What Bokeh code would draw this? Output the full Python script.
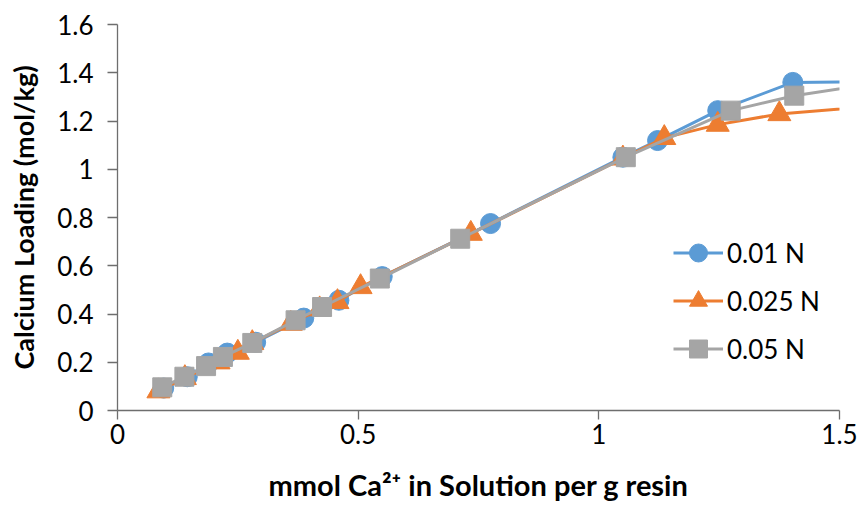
from bokeh.plotting import figure
from bokeh.models import Range1d, FixedTicker, Legend, LegendItem
from bokeh.embed import file_html
from bokeh.resources import INLINE

# Calcium loading isotherms at three solution normalities
x_001 = [0.096, 0.145, 0.189, 0.228, 0.287, 0.387, 0.46, 0.55, 0.775, 1.05, 1.122, 1.247, 1.403, 1.65]
y_001 = [0.093, 0.14, 0.197, 0.238, 0.283, 0.383, 0.457, 0.555, 0.775, 1.05, 1.119, 1.243, 1.36, 1.365]

x_0025 = [0.085, 0.14, 0.21, 0.25, 0.28, 0.36, 0.42, 0.457, 0.505, 0.734, 1.05, 1.136, 1.247, 1.375, 1.65]
y_0025 = [0.08, 0.135, 0.2, 0.24, 0.28, 0.36, 0.42, 0.45, 0.512, 0.733, 1.045, 1.13, 1.185, 1.229, 1.275]

x_005 = [0.093, 0.139, 0.184, 0.219, 0.28, 0.37, 0.425, 0.545, 0.712, 1.056, 1.274, 1.406, 1.65]
y_005 = [0.096, 0.14, 0.184, 0.222, 0.28, 0.374, 0.429, 0.547, 0.712, 1.05, 1.243, 1.305, 1.378]

series_names = ["0.01 N", "0.025 N", "0.05 N"]
series_colors = ["#5B9BD5", "#ED7D31", "#A5A5A5"]
series_markers = ["circle", "triangle", "square"]
series_sizes = [20, 23, 19]

x_ticks = [0, 0.5, 1, 1.5]
y_ticks = [0, 0.2, 0.4, 0.6, 0.8, 1, 1.2, 1.4, 1.6]

FONT = "Lato"

p = figure(width=861, height=511, output_backend="svg", toolbar_location=None,
           x_range=Range1d(0, 1.5), y_range=Range1d(0, 1.6),
           min_border_left=117, min_border_right=22, min_border_top=24, min_border_bottom=101)
p.outline_line_color = None
p.xgrid.grid_line_color = None
p.ygrid.grid_line_color = None
p.background_fill_color = "white"
p.border_fill_color = "white"

items = []
for xs, ys, name, color, marker, size in zip(
        [x_001, x_0025, x_005], [y_001, y_0025, y_005],
        series_names, series_colors, series_markers, series_sizes):
    ln = p.line(xs, ys, line_color=color, line_width=3)
    sc = p.scatter(xs, ys, marker=marker, size=size, fill_color=color, line_color=color)
    items.append(LegendItem(label=name, renderers=[ln, sc]))

legend = Legend(items=items, location=(556, 39), border_line_color=None,
                background_fill_alpha=0, padding=0, margin=0, spacing=3,
                glyph_width=50, glyph_height=45, label_height=45,
                label_text_font=FONT, label_text_font_size="26px",
                label_text_color="#000000", label_standoff=4)
p.add_layout(legend, "center")

for ax in (p.xaxis[0], p.yaxis[0]):
    ax.axis_line_color = "#6e6e6e"
    ax.axis_line_width = 1.3
    ax.major_tick_line_color = "#6e6e6e"
    ax.major_tick_line_width = 1.3
    ax.major_tick_in = 0
    ax.minor_tick_line_color = None
    ax.major_label_text_font = FONT
    ax.major_label_text_font_size = "26px"
    ax.major_label_text_color = "#000000"
    ax.axis_label_text_font = FONT
    ax.axis_label_text_font_style = "bold"
    ax.axis_label_text_color = "#000000"

p.xaxis.axis_label_text_font_size = "29px"
p.yaxis.axis_label_text_font_size = "27px"
p.xaxis.ticker = FixedTicker(ticks=x_ticks)
p.yaxis.ticker = FixedTicker(ticks=y_ticks)
p.xaxis.major_label_overrides = {0: "0", 0.5: "0.5", 1: "1", 1.5: "1.5"}
p.yaxis.major_label_overrides = {0: "0", 1: "1"}
p.xaxis.major_tick_out = 9
p.xaxis.major_label_standoff = 4
p.yaxis.major_tick_out = 10
p.yaxis.major_label_standoff = 14
p.xaxis.axis_label = "mmol Ca²⁺ in Solution per g resin"
p.yaxis.axis_label = "Calcium Loading (mol/kg)"
p.xaxis.axis_label_standoff = 20
p.yaxis.axis_label_standoff = 14

open("out.html", "w").write(file_html(p, INLINE))
